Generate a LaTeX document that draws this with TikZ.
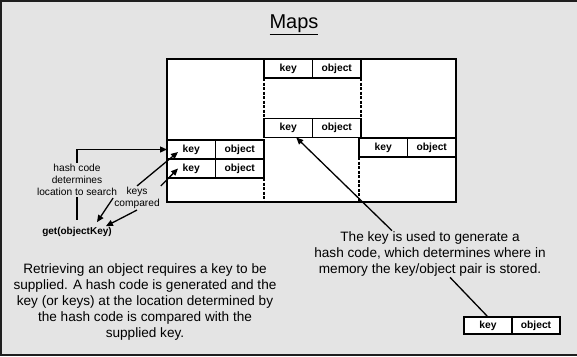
\documentclass[tikz,border=0pt]{standalone}
\usepackage{fontspec}
\setmainfont{Liberation Sans}
\usetikzlibrary{arrows.meta, positioning}
\definecolor{bggray}{HTML}{E4E4E4}
\definecolor{framegray}{HTML}{1E1E1E}

\begin{document}
\begin{tikzpicture}[x=1pt, y=-1pt,
  cell/.style={rectangle, draw, fill=white, line width=1.2pt, minimum width=48.5pt, minimum height=19pt, inner sep=0pt, outer sep=0pt, font=\bfseries\fontsize{10.3}{12}\selectfont},
  lbl/.style={align=center, inner sep=1pt, font=\fontsize{10.2}{12.2}\selectfont},
  note/.style={align=center, inner sep=1pt, font=\fontsize{13.6}{15.8}\selectfont},
  divider/.style={line width=1.2pt, dash pattern=on 3pt off 1.5pt},
  arrow/.style={-{Triangle[length=7pt, width=6pt]}, line width=1.3pt}]

\useasboundingbox[fill=bggray] (0,0) rectangle (577,356);
\draw[line width=2pt, framegray] (577,1) -- (1,1) -- (1,355) -- (577,355);

\node[font=\fontsize{20}{24}\selectfont] (title) at (294,25) {\underline{Maps}};

% hash table
\node[draw, fill=white, line width=1.5pt, minimum width=289pt, minimum height=143pt, inner sep=0pt, outer sep=0pt] (table) at (311.5,130.5) {};

\node[cell, anchor=north west] (k1) at (167,140) {key};
\node[cell, right=0pt of k1] (o1) {object};
\node[cell, below=0pt of k1] (k2) {key};
\node[cell, right=0pt of k2] (o2) {object};

\node[cell, anchor=north west] (m1k) at (264,59) {key};
\node[cell, right=0pt of m1k] (m1o) {object};
\node[cell, anchor=north west] (m2k) at (264,118.5) {key};
\node[cell, right=0pt of m2k] (m2o) {object};

\node[cell, anchor=north west] (r1k) at (359,138) {key};
\node[cell, right=0pt of r1k] (r1o) {object};

\draw[divider] (m1k.south west) -- (m2k.north west);
\draw[divider] (m1o.south east) -- (m2o.north east);
\draw[divider] (o2.south east) -- (o2.south east |- table.south);
\draw[divider] (r1k.south west) -- (r1k.south west |- table.south);

% sample pair
\node[cell, anchor=north west, minimum width=48pt, minimum height=17pt] (s1k) at (464,317) {key};
\node[cell, right=0pt of s1k, minimum width=48pt, minimum height=17pt] (s1o) {object};

% labels
\node[lbl] (hash) at (77,180) {hash code\\determines\\location to search};
\node[lbl] (cmp) at (137,198) {keys\\compared};
\node[lbl, font=\bfseries\fontsize{10}{12}\selectfont] (get) at (77,232) {get(objectKey)};

\node[note] (retrieve) at (145,302) {Retrieving an object requires a key to be\\supplied. A hash code is generated and the\\key (or keys) at the location determined by\\the hash code is compared with the\\supplied key.};
\node[note] (desc) at (430,254) {The key is used to generate a\\hash code, which determines where in\\memory the key/object pair is stored.};

% connectors
\draw[line width=1.3pt, shorten >=6pt] (hash) -- (get);
\draw[arrow] (hash.north) |- (k1.west);
\draw[arrow] (cmp.north) -- ([xshift=11pt, yshift=-2.5pt]k1.west);
\draw[arrow] (cmp.north east) -- ([xshift=11pt]k2.west);
\draw[arrow] (cmp.west) -- ([xshift=20pt, yshift=4pt]get.north);
\draw[arrow] (cmp.south) -- ([xshift=-7pt]get.north east);
\draw[arrow] ([xshift=-38pt]desc.north) -- ([xshift=8pt]m2k.south);
\draw[line width=1.3pt] ([xshift=20pt]desc.south) -- (s1k.north);
\end{tikzpicture}
\end{document}
